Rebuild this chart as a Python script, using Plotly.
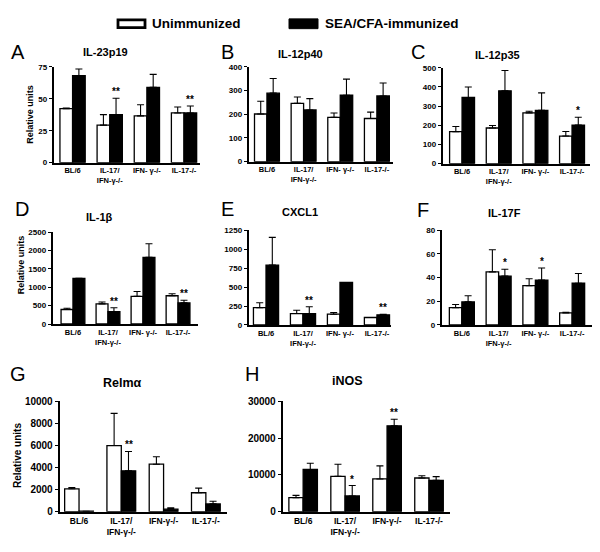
import plotly.graph_objects as go

# the page body adds an 8 px margin, so the figure is drawn 8 px smaller
OFF = 8
W, H = 600 - OFF, 552 - OFF

# ---------------- data ----------------
groups_top = ["BL/6", "IL-17/<br>IFN-γ-/-", "IFN- γ-/-", "IL-17-/-"]
groups_bot = ["BL/6", "IL-17/<br>IFN-γ-/-", "IFN-γ-/-", "IL-17-/-"]
series_names = ["Unimmunized", "SEA/CFA-immunized"]

# A  IL-23p19
a_un = [42.2, 29.4, 36.6, 38.9]
a_un_sem = [0.5, 8.2, 8.7, 4.6]
a_im = [68.0, 37.6, 58.9, 38.9]
a_im_sem = [5.3, 12.8, 10.2, 5.4]
a_stars = ["", "**", "", "**"]

# B  IL-12p40
b_un = [201, 246, 187, 182]
b_un_sem = [54, 27, 18, 27]
b_im = [289, 218, 280, 277]
b_im_sem = [62, 48, 68, 55]
b_stars = ["", "", "", ""]

# C  IL-12p35
c_un = [167, 186, 265, 144]
c_un_sem = [27, 13, 8, 24]
c_im = [345, 380, 278, 201]
c_im_sem = [55, 106, 91, 41]
c_stars = ["", "", "", "*"]

# D  IL-1beta
d_un = [395, 548, 751, 769]
d_un_sem = [35, 52, 132, 53]
d_im = [1240, 336, 1811, 574]
d_im_sem = [0, 106, 371, 71]
d_stars = ["", "**", "", "**"]

# E  CXCL1
e_un = [228, 151, 142, 99]
e_un_sem = [65, 43, 22, 0]
e_im = [789, 151, 560, 134]
e_im_sem = [366, 90, 0, 8]
e_stars = ["", "**", "", "**"]

# F  IL-17F
f_un = [14.6, 44.8, 33.2, 10.2]
f_un_sem = [2.7, 18.7, 5.8, 0.5]
f_im = [19.5, 41.2, 37.9, 35.2]
f_im_sem = [5.2, 5.8, 10.2, 8.2]
f_stars = ["", "*", "*", ""]

# G  Relm-alpha
g_un = [2077, 5994, 4303, 1721]
g_un_sem = [119, 2908, 682, 415]
g_im = [50, 3709, 237, 712]
g_im_sem = [0, 1751, 119, 238]
g_stars = ["", "**", "", ""]

# H  iNOS
h_un = [3829, 9617, 8905, 9172]
h_un_sem = [623, 3295, 3562, 623]
h_im = [11487, 4274, 23330, 8549]
h_im_sem = [1692, 2850, 1781, 979]
h_stars = ["", "*", "**", ""]

panel_data = [
    ("A", "IL-23p19", groups_top, a_un, a_un_sem, a_im, a_im_sem, a_stars, 75, 25),
    ("B", "IL-12p40", groups_top, b_un, b_un_sem, b_im, b_im_sem, b_stars, 400, 100),
    ("C", "IL-12p35", groups_top, c_un, c_un_sem, c_im, c_im_sem, c_stars, 500, 100),
    ("D", "IL-1β", groups_top, d_un, d_un_sem, d_im, d_im_sem, d_stars, 2500, 500),
    ("E", "CXCL1", groups_top, e_un, e_un_sem, e_im, e_im_sem, e_stars, 1250, 250),
    ("F", "IL-17F", groups_top, f_un, f_un_sem, f_im, f_im_sem, f_stars, 80, 20),
    ("G", "Relmα", groups_bot, g_un, g_un_sem, g_im, g_im_sem, g_stars, 10000, 2000),
    ("H", "iNOS", groups_bot, h_un, h_un_sem, h_im, h_im_sem, h_stars, 30000, 10000),
]

# ---------------- layout (window pixels) ----------------
# plot box: x0, x1, ytop, ybottom ; category range lo, hi ; bargap
boxes = [
    (54, 200, 62, 160, -0.50, 3.43, 0.33),
    (249, 393, 62, 159, -0.49, 3.44, 0.32),
    (443, 590, 63, 161, -0.52, 3.49, 0.32),
    (53, 198, 231, 325, -0.57, 3.57, 0.32),
    (249, 391, 229, 326, -0.46, 3.38, 0.32),
    (442, 592, 229, 326, -0.54, 3.54, 0.32),
    (60, 227, 404, 517, -0.45, 3.50, 0.31),
    (283, 450, 404, 517, -0.48, 3.50, 0.31),
]
letters_pos = [(18, 47), (227, 47), (418, 47), (22, 207), (227, 207), (423, 208), (18, 376), (252, 376)]
titles_pos = [(105, 47), (300, 49), (497, 50), (99, 216), (300, 210), (505, 211), (123, 385), (347, 383)]
ylabel_pos = {0: (30, 111), 3: (21, 265), 6: (17, 460)}

BOLD = dict(family="Liberation Sans, Arial, sans-serif", weight="bold", color="black")


def px(x):
    return (x - OFF) / W


def py(y):
    return 1 - (y - OFF) / H


def note(x, y, text, font, **kw):
    d = dict(x=px(x), y=py(y), xref="paper", yref="paper", text=text, showarrow=False,
             xanchor="center", yanchor="middle", font=font)
    d.update(kw)
    return d


fig = go.Figure()
annotations = []
layout_axes = {}

for i, (pd_, box) in enumerate(zip(panel_data, boxes)):
    letter, title, cats, un, un_sem, im, im_sem, stars, ymax, dtick = pd_
    x0, x1, yt, yb, lo, hi, gap = box
    bottom = i >= 6
    k = "" if i == 0 else str(i + 1)
    xa, ya = "x" + k, "y" + k
    xs = list(range(len(cats)))
    fig.add_trace(go.Bar(
        x=xs, y=un, name=series_names[0], xaxis=xa, yaxis=ya, showlegend=False,
        marker=dict(color="white", line=dict(color="black", width=1.3)),
        error_y=dict(type="data", array=un_sem, arrayminus=[0] * len(un), symmetric=False,
                     color="black", thickness=1.1, width=3.5),
        offsetgroup="u",
    ))
    fig.add_trace(go.Bar(
        x=xs, y=im, name=series_names[1], xaxis=xa, yaxis=ya, showlegend=False,
        marker=dict(color="black", line=dict(color="black", width=1.3)),
        error_y=dict(type="data", array=im_sem, arrayminus=[0] * len(im), symmetric=False,
                     color="black", thickness=1.1, width=3.5),
        offsetgroup="i",
    ))
    layout_axes["xaxis" + k] = dict(
        domain=[px(x0), px(x1)], anchor=ya, range=[lo, hi],
        tickvals=xs, ticktext=cats, showline=True, linecolor="black", linewidth=1.6,
        ticks="", showgrid=False, zeroline=False,
        tickfont=dict(size=8.5 if bottom else 7.5, **BOLD), tickangle=0, fixedrange=True,
    )
    layout_axes["yaxis" + k] = dict(
        domain=[py(yb), py(yt)], anchor=xa, range=[0, ymax], dtick=dtick, tick0=0,
        tickformat="d", showline=True, linecolor="black", linewidth=1.6,
        ticks="outside", ticklen=3.5, tickwidth=1.3, tickcolor="black",
        showgrid=False, zeroline=False, tickfont=dict(size=10 if bottom else 8, **BOLD),
        fixedrange=True,
    )
    # significance stars above immunized bars
    off = (1 - gap) / 4
    for j, s in enumerate(stars):
        if s:
            annotations.append(dict(
                x=j + off, y=im[j] + im_sem[j], xref=xa, yref=ya, text=s, showarrow=False,
                xanchor="center", yanchor="bottom", yshift=-1, font=dict(size=10, **BOLD),
            ))
    lx, ly = letters_pos[i]
    annotations.append(note(lx, ly, letter, dict(family="Liberation Sans, Arial", size=20, color="black")))
    tx, ty = titles_pos[i]
    annotations.append(note(tx, ty, title, dict(size=12.5 if bottom else 11, **BOLD)))
    if i in ylabel_pos:
        yx, yy = ylabel_pos[i]
        annotations.append(note(yx, yy, "Relative units", dict(size=10 if bottom else 9, **BOLD),
                                textangle=-90))

# legend (drawn as boxes + labels)
shapes = [
    dict(type="rect", xref="paper", yref="paper", x0=px(118), x1=px(145), y0=py(22), y1=py(14),
         fillcolor="white", line=dict(color="black", width=2.8)),
    dict(type="rect", xref="paper", yref="paper", x0=px(289), x1=px(318), y0=py(23), y1=py(13),
         fillcolor="black", line=dict(color="black", width=1)),
]
annotations.append(note(150, 18, series_names[0], dict(size=13.5, **BOLD), xanchor="left"))
annotations.append(note(323, 18, series_names[1], dict(size=13.5, **BOLD), xanchor="left"))

fig.update_layout(
    width=W, height=H, margin=dict(l=0, r=0, t=0, b=0),
    paper_bgcolor="white", plot_bgcolor="white",
    barmode="group", bargap=0.32, bargroupgap=0,
    annotations=annotations, shapes=shapes, showlegend=False,
    font=dict(family="Liberation Sans, Arial, sans-serif", color="black"),
    **layout_axes,
)

fig.write_html("out.html")
